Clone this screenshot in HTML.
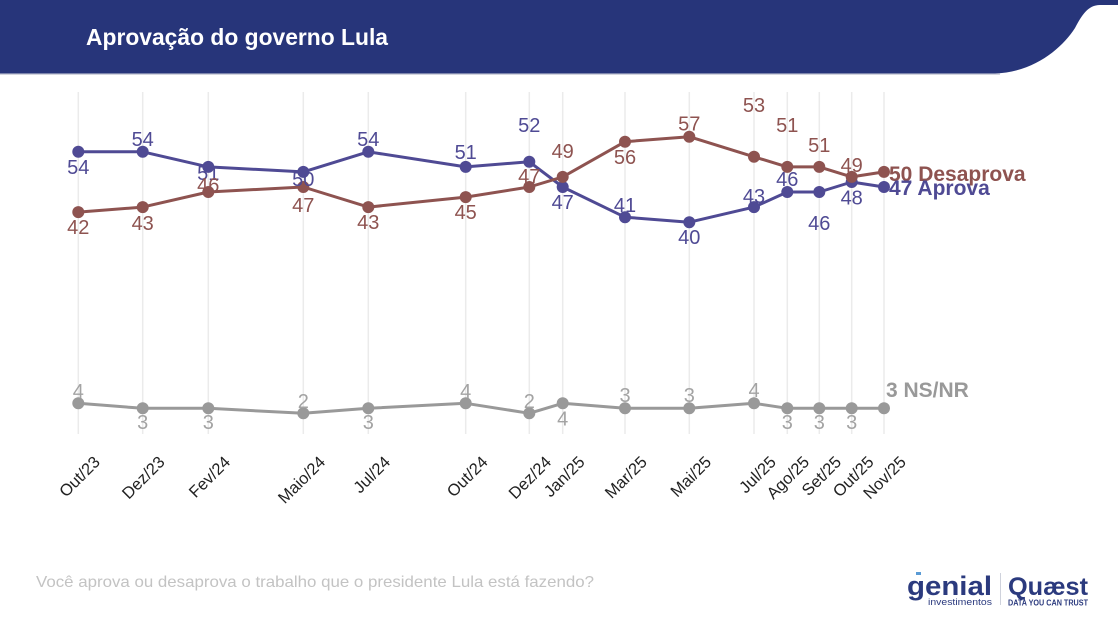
<!DOCTYPE html>
<html>
<head>
<meta charset="utf-8">
<style>
html,body{margin:0;padding:0;background:#fff;}
body{width:1118px;height:619px;overflow:hidden;}
svg{display:block;font-family:"Liberation Sans",Arial,sans-serif;}
</style>
</head>
<body>
<svg width="1118" height="619" viewBox="0 0 1118 619" xmlns="http://www.w3.org/2000/svg">
  <!-- header -->
  <rect x="0" y="72" width="1000" height="3" fill="#d3d5de"/>
  <path d="M0,0 H1118 V5 H1100 C1088,5 1082,15 1075,28 C1062,48 1035,72 995,73.5 L0,73.5 Z" fill="#27357a"/>
  <text x="86" y="45" fill="#ffffff" font-size="23" font-weight="bold" textLength="302" lengthAdjust="spacingAndGlyphs">Aprovação do governo Lula</text>

  <!-- gridlines -->
  <g stroke="#ebebeb" stroke-width="1.5">
    <line x1="78.3" y1="92" x2="78.3" y2="434"/>
    <line x1="142.7" y1="92" x2="142.7" y2="434"/>
    <line x1="208.3" y1="92" x2="208.3" y2="434"/>
    <line x1="303.3" y1="92" x2="303.3" y2="434"/>
    <line x1="368.3" y1="92" x2="368.3" y2="434"/>
    <line x1="465.7" y1="92" x2="465.7" y2="434"/>
    <line x1="529.3" y1="92" x2="529.3" y2="434"/>
    <line x1="562.7" y1="92" x2="562.7" y2="434"/>
    <line x1="625" y1="92" x2="625" y2="434"/>
    <line x1="689.3" y1="92" x2="689.3" y2="434"/>
    <line x1="754" y1="92" x2="754" y2="434"/>
    <line x1="787.3" y1="92" x2="787.3" y2="434"/>
    <line x1="819.3" y1="92" x2="819.3" y2="434"/>
    <line x1="851.7" y1="92" x2="851.7" y2="434"/>
    <line x1="884" y1="92" x2="884" y2="434"/>
  </g>

  <!-- Aprova -->
  <g fill="#4f4a94">
    <polyline fill="none" stroke="#4f4a94" stroke-width="3" stroke-linejoin="round"
      points="78.3,151.8 142.7,151.8 208.3,166.9 303.3,171.9 368.3,151.8 465.7,166.9 529.3,161.8 562.7,187 625,217.2 689.3,222.2 754,207.1 787.3,192 819.3,192 851.7,182 884,187"/>
    <circle cx="78.3" cy="151.8" r="6"/>
    <circle cx="142.7" cy="151.8" r="6"/>
    <circle cx="208.3" cy="166.9" r="6"/>
    <circle cx="303.3" cy="171.9" r="6"/>
    <circle cx="368.3" cy="151.8" r="6"/>
    <circle cx="465.7" cy="166.9" r="6"/>
    <circle cx="529.3" cy="161.8" r="6"/>
    <circle cx="562.7" cy="187" r="6"/>
    <circle cx="625" cy="217.2" r="6"/>
    <circle cx="689.3" cy="222.2" r="6"/>
    <circle cx="754" cy="207.1" r="6"/>
    <circle cx="787.3" cy="192" r="6"/>
    <circle cx="819.3" cy="192" r="6"/>
    <circle cx="851.7" cy="182" r="6"/>
    <circle cx="884" cy="187" r="6"/>
  </g>

  <!-- Desaprova -->
  <g fill="#8e5350">
    <polyline fill="none" stroke="#8e5350" stroke-width="3" stroke-linejoin="round"
      points="78.3,212.1 142.7,207.1 208.3,192 303.3,187 368.3,207.1 465.7,197.1 529.3,187 562.7,176.9 625,141.7 689.3,136.7 754,156.8 787.3,166.9 819.3,166.9 851.7,176.9 884,171.9"/>
    <circle cx="78.3" cy="212.1" r="6"/>
    <circle cx="142.7" cy="207.1" r="6"/>
    <circle cx="208.3" cy="192" r="6"/>
    <circle cx="303.3" cy="187" r="6"/>
    <circle cx="368.3" cy="207.1" r="6"/>
    <circle cx="465.7" cy="197.1" r="6"/>
    <circle cx="529.3" cy="187" r="6"/>
    <circle cx="562.7" cy="176.9" r="6"/>
    <circle cx="625" cy="141.7" r="6"/>
    <circle cx="689.3" cy="136.7" r="6"/>
    <circle cx="754" cy="156.8" r="6"/>
    <circle cx="787.3" cy="166.9" r="6"/>
    <circle cx="819.3" cy="166.9" r="6"/>
    <circle cx="851.7" cy="176.9" r="6"/>
    <circle cx="884" cy="171.9" r="6"/>
  </g>

  <!-- NS/NR -->
  <g fill="#999999">
    <polyline fill="none" stroke="#999999" stroke-width="3" stroke-linejoin="round"
      points="78.3,403.3 142.7,408.3 208.3,408.3 303.3,413.3 368.3,408.3 465.7,403.3 529.3,413.3 562.7,403.3 625,408.3 689.3,408.3 754,403.3 787.3,408.3 819.3,408.3 851.7,408.3 884,408.3"/>
    <circle cx="78.3" cy="403.3" r="6"/>
    <circle cx="142.7" cy="408.3" r="6"/>
    <circle cx="208.3" cy="408.3" r="6"/>
    <circle cx="303.3" cy="413.3" r="6"/>
    <circle cx="368.3" cy="408.3" r="6"/>
    <circle cx="465.7" cy="403.3" r="6"/>
    <circle cx="529.3" cy="413.3" r="6"/>
    <circle cx="562.7" cy="403.3" r="6"/>
    <circle cx="625" cy="408.3" r="6"/>
    <circle cx="689.3" cy="408.3" r="6"/>
    <circle cx="754" cy="403.3" r="6"/>
    <circle cx="787.3" cy="408.3" r="6"/>
    <circle cx="819.3" cy="408.3" r="6"/>
    <circle cx="851.7" cy="408.3" r="6"/>
    <circle cx="884" cy="408.3" r="6"/>
  </g>

  <!-- Aprova labels -->
  <g fill="#4f4a94" font-size="20" text-anchor="middle">
    <text x="78.3" y="174">54</text>
    <text x="142.7" y="146">54</text>
    <text x="208.3" y="180">51</text>
    <text x="303.3" y="186">50</text>
    <text x="368.3" y="146">54</text>
    <text x="465.7" y="159">51</text>
    <text x="529.3" y="132">52</text>
    <text x="562.7" y="209">47</text>
    <text x="625" y="212">41</text>
    <text x="689.3" y="244">40</text>
    <text x="754" y="203">43</text>
    <text x="787.3" y="186">46</text>
    <text x="819.3" y="230">46</text>
    <text x="851.7" y="204.5">48</text>
  </g>

  <!-- Desaprova labels -->
  <g fill="#8e5350" font-size="20" text-anchor="middle">
    <text x="78.3" y="234">42</text>
    <text x="142.7" y="230">43</text>
    <text x="208.3" y="192">46</text>
    <text x="303.3" y="212">47</text>
    <text x="368.3" y="229">43</text>
    <text x="465.7" y="219">45</text>
    <text x="529.3" y="183">47</text>
    <text x="562.7" y="158">49</text>
    <text x="625" y="164">56</text>
    <text x="689.3" y="130.5">57</text>
    <text x="754" y="112">53</text>
    <text x="787.3" y="132">51</text>
    <text x="819.3" y="152">51</text>
    <text x="851.7" y="172">49</text>
  </g>

  <!-- NS/NR labels -->
  <g fill="#a3a3a3" font-size="20" text-anchor="middle">
    <text x="78.3" y="398">4</text>
    <text x="142.7" y="429">3</text>
    <text x="208.3" y="429">3</text>
    <text x="303.3" y="408">2</text>
    <text x="368.3" y="429">3</text>
    <text x="465.7" y="398">4</text>
    <text x="529.3" y="408">2</text>
    <text x="562.7" y="425.5">4</text>
    <text x="625" y="402">3</text>
    <text x="689.3" y="402">3</text>
    <text x="754" y="397">4</text>
    <text x="787.3" y="429">3</text>
    <text x="819.3" y="429">3</text>
    <text x="851.7" y="429">3</text>
  </g>

  <!-- end labels -->
  <g font-size="21" font-weight="bold">
    <text x="889" y="181" fill="#8e5350">50 Desaprova</text>
    <text x="889" y="195" fill="#4f4a94">47 Aprova</text>
    <text x="886" y="397" fill="#999999">3 NS/NR</text>
  </g>

  <!-- x-axis tick labels -->
  <g font-size="16.5" fill="#222" text-anchor="end">
    <text transform="translate(101,463) rotate(-45)">Out/23</text>
    <text transform="translate(165.7,463) rotate(-45)">Dez/23</text>
    <text transform="translate(231.3,463) rotate(-45)">Fev/24</text>
    <text transform="translate(326.3,463) rotate(-45)">Maio/24</text>
    <text transform="translate(391.3,463) rotate(-45)">Jul/24</text>
    <text transform="translate(488.7,463) rotate(-45)">Out/24</text>
    <text transform="translate(552.3,463) rotate(-45)">Dez/24</text>
    <text transform="translate(585.7,463) rotate(-45)">Jan/25</text>
    <text transform="translate(648,463) rotate(-45)">Mar/25</text>
    <text transform="translate(712.3,463) rotate(-45)">Mai/25</text>
    <text transform="translate(777,463) rotate(-45)">Jul/25</text>
    <text transform="translate(810.3,463) rotate(-45)">Ago/25</text>
    <text transform="translate(842.3,463) rotate(-45)">Set/25</text>
    <text transform="translate(874.7,463) rotate(-45)">Out/25</text>
    <text transform="translate(907,463) rotate(-45)">Nov/25</text>
  </g>

  <!-- footer question -->
  <text x="36" y="587" fill="#c3c3c3" font-size="16" textLength="558" lengthAdjust="spacingAndGlyphs">Você aprova ou desaprova o trabalho que o presidente Lula está fazendo?</text>

  <!-- logos -->
  <g>
    <text x="907" y="595" fill="#2b3a7e" font-size="27" font-weight="bold" textLength="85" lengthAdjust="spacingAndGlyphs">genial</text>
    <rect x="916" y="572" width="5" height="3" fill="#5a9bd5"/>
    <text x="928" y="605" fill="#2b3a7e" font-size="9" textLength="64" lengthAdjust="spacingAndGlyphs">investimentos</text>
    <line x1="1000.5" y1="573" x2="1000.5" y2="605" stroke="#cfd2dc" stroke-width="1"/>
    <text x="1008" y="595" fill="#2b3a7e" font-size="25" font-weight="bold" textLength="80" lengthAdjust="spacingAndGlyphs">Quæst</text>
    <text x="1008" y="605.5" fill="#2b3a7e" font-size="8" font-weight="bold" textLength="80" lengthAdjust="spacingAndGlyphs">DATA YOU CAN TRUST</text>
  </g>
</svg>
</body>
</html>
